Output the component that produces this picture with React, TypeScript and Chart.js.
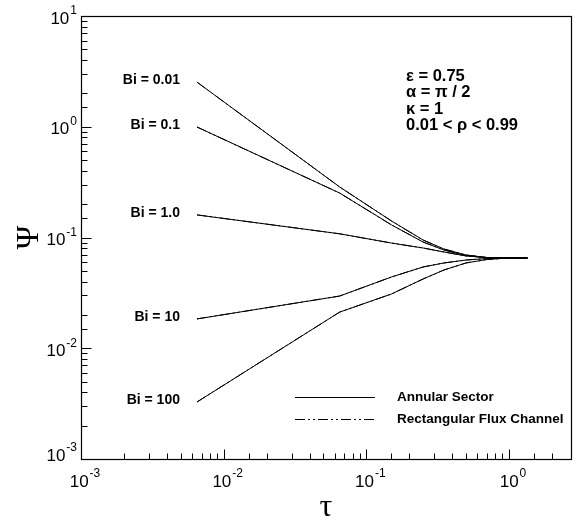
import React, { useEffect, useRef } from "react";
import { Chart, registerables } from "chart.js";

Chart.register(...registerables);

// ---- data ----
const tau = [0.0065, 0.065, 0.15, 0.25, 0.35, 0.5, 0.7, 1.0, 1.35];

const annularBi001 = [2.53, 0.286, 0.141, 0.0949, 0.0787, 0.0695, 0.0659, 0.0653, 0.0653];
const annularBi01 = [0.995, 0.252, 0.13, 0.091, 0.0771, 0.0688, 0.0659, 0.0653, 0.0653];
const annularBi1 = [0.16, 0.108, 0.0891, 0.0804, 0.074, 0.0681, 0.0659, 0.0653, 0.0653];
const annularBi10 = [0.0184, 0.0296, 0.044, 0.0542, 0.0589, 0.0626, 0.0646, 0.0653, 0.0653];
const annularBi100 = [0.00327, 0.0212, 0.0309, 0.0422, 0.0509, 0.0589, 0.0633, 0.0653, 0.0653];

const rectBi001 = [2.53, 0.286, 0.141, 0.0949, 0.0787, 0.0695, 0.0659, 0.0653, 0.0653];
const rectBi01 = [0.995, 0.252, 0.13, 0.091, 0.0771, 0.0688, 0.0659, 0.0653, 0.0653];
const rectBi1 = [0.16, 0.108, 0.0891, 0.0804, 0.074, 0.0681, 0.0659, 0.0653, 0.0653];
const rectBi10 = [0.0184, 0.0296, 0.044, 0.0542, 0.0589, 0.0626, 0.0646, 0.0653, 0.0653];
const rectBi100 = [0.00327, 0.0212, 0.0309, 0.0422, 0.0509, 0.0589, 0.0633, 0.0653, 0.0653];

const biLabels = ["Bi = 0.01", "Bi = 0.1", "Bi = 1.0", "Bi = 10", "Bi = 100"];
const paramLines = ["ε = 0.75", "α = π / 2", "κ = 1", "0.01 < ρ < 0.99"];
const seriesNames = ["Annular Sector", "Rectangular Flux Channel"];
const xTitle = "τ";
const yTitle = "Ψ";
const tickBase = "10";
const xMin = 1e-3;
const xMax = 2.72;
const yMin = 1e-3;
const yMax = 10;

const annular = [annularBi001, annularBi01, annularBi1, annularBi10, annularBi100];
const rect = [rectBi001, rectBi01, rectBi1, rectBi10, rectBi100];

const DASH = [10, 3, 2, 3, 2, 3];
const SANS = '"Liberation Sans", Arial, Helvetica, sans-serif';
const SERIF = '"Liberation Serif", "Times New Roman", serif';
const BASE_FONT = "17px " + SANS;
const EXP_FONT = "12px " + SANS;

function isDecade(v: number) {
  const e = Math.log10(v);
  return Math.abs(e - Math.round(e)) < 1e-9;
}

function drawPow(ctx: any, exp: string, x: number, y: number, align: "right" | "center") {
  ctx.font = BASE_FONT;
  const wb = ctx.measureText(tickBase).width;
  ctx.font = EXP_FONT;
  const we = ctx.measureText(exp).width;
  const total = wb + we + 1;
  const x0 = align === "right" ? x - total : x - total / 2;
  ctx.textAlign = "left";
  ctx.textBaseline = "middle";
  ctx.font = BASE_FONT;
  ctx.fillText(tickBase, x0, y + 3);
  ctx.font = EXP_FONT;
  ctx.fillText(exp, x0 + wb + 1, y - 5);
}

const overlay = {
  id: "overlay",
  afterDraw(chart: any) {
    const { ctx, chartArea: a, scales } = chart;
    const xs = scales.x;
    const ys = scales.y;
    ctx.save();
    ctx.strokeStyle = "#000";
    ctx.fillStyle = "#000";
    ctx.lineWidth = 1.2;
    const L = Math.round(a.left) + 0.5;
    const R = Math.round(a.right) + 0.5;
    const T = Math.round(a.top) + 0.5;
    const B = Math.round(a.bottom) + 0.5;
    ctx.strokeRect(L, T, R - L, B - T);
    ctx.lineWidth = 1;
    ctx.beginPath();
    xs.ticks.forEach((t: any) => {
      const px = Math.round(xs.getPixelForValue(t.value)) + 0.5;
      if (px <= L + 1 || px >= R - 1) return;
      const len = isDecade(t.value) ? 10 : 6;
      ctx.moveTo(px, B);
      ctx.lineTo(px, B - len);
    });
    ys.ticks.forEach((t: any) => {
      const py = Math.round(ys.getPixelForValue(t.value)) + 0.5;
      if (py <= T + 1 || py >= B - 1) return;
      const len = isDecade(t.value) ? 10 : 6;
      ctx.moveTo(L, py);
      ctx.lineTo(L + len, py);
    });
    ctx.stroke();

    // decade tick labels (base 10 with raised exponent)
    xs.ticks.forEach((t: any) => {
      if (!isDecade(t.value)) return;
      const e = String(Math.round(Math.log10(t.value)));
      drawPow(ctx, e, xs.getPixelForValue(t.value) + 4, a.bottom + 20, "center");
    });
    ys.ticks.forEach((t: any) => {
      if (!isDecade(t.value)) return;
      const e = String(Math.round(Math.log10(t.value)));
      const py = ys.getPixelForValue(t.value);
      drawPow(ctx, e, a.left - 4, py <= a.bottom - 1 ? py : py - 6, "right");
    });

    // Bi labels beside the start of each curve
    ctx.font = "bold 14px " + SANS;
    ctx.textAlign = "right";
    ctx.textBaseline = "middle";
    annular.forEach((s, i) => {
      const px = xs.getPixelForValue(tau[0]) - 17;
      const py = ys.getPixelForValue(s[0]) - 2;
      ctx.fillText(biLabels[i], px, py);
    });

    // parameter block
    ctx.font = "bold 16.5px " + SANS;
    ctx.textAlign = "left";
    paramLines.forEach((txt, i) => {
      ctx.fillText(txt, a.left + 325, a.top + 60 + i * 16.5);
    });

    // legend
    const ds = chart.data.datasets;
    const legendItems = [ds[0], ds[annular.length]];
    ctx.font = "bold 13.5px " + SANS;
    legendItems.forEach((d: any, i: number) => {
      const y = Math.round(a.top + 381 + i * 22) + 0.5;
      ctx.setLineDash(d.borderDash || []);
      ctx.beginPath();
      ctx.moveTo(a.left + 214, y);
      ctx.lineTo(a.left + 294, y);
      ctx.stroke();
      ctx.setLineDash([]);
      ctx.fillText(d.label, a.left + 316, y);
    });
    ctx.restore();
  },
};

export default function App() {
  const ref = useRef<HTMLCanvasElement | null>(null);
  useEffect(() => {
    if (!ref.current) return;
    const datasets: any[] = [];
    annular.forEach((s) => {
      datasets.push({
        label: seriesNames[0],
        data: tau.map((t, j) => ({ x: t, y: s[j] })),
        borderColor: "#000",
        borderWidth: 1,
        pointRadius: 0,
        tension: 0,
        fill: false,
      });
    });
    rect.forEach((s) => {
      datasets.push({
        label: seriesNames[1],
        data: tau.map((t, j) => ({ x: t, y: s[j] })),
        borderColor: "#000",
        borderWidth: 1,
        borderDash: DASH,
        pointRadius: 0,
        tension: 0,
        fill: false,
      });
    });
    const chart = new Chart(ref.current, {
      type: "line",
      data: { datasets },
      options: {
        animation: false,
        responsive: false,
        layout: { padding: { left: 0, right: 10, top: 16, bottom: 0 } },
        plugins: { legend: { display: false }, tooltip: { enabled: false } },
        scales: {
          x: {
            type: "logarithmic",
            min: xMin,
            max: xMax,
            grid: { display: false },
            border: { display: false },
            ticks: { display: false, autoSkip: false },
            title: {
              display: true,
              text: xTitle,
              color: "#000",
              font: { family: SERIF, size: 32 },
              padding: { top: 0, bottom: 0 },
            },
            afterFit: (s: any) => {
              s.height = 68;
            },
          },
          y: {
            type: "logarithmic",
            min: yMin,
            max: yMax,
            grid: { display: false },
            border: { display: false },
            ticks: { display: false, autoSkip: false },
            title: {
              display: true,
              text: yTitle,
              color: "#000",
              font: { family: SERIF, size: 32 },
              padding: { top: 10, bottom: 0 },
            },
            afterFit: (s: any) => {
              s.width = 81;
            },
          },
        },
      },
      plugins: [overlay],
    });
    return () => chart.destroy();
  }, []);
  return (
    <div style={{ position: "fixed", left: 0, top: 0, width: 581, height: 527, background: "#fff" }}>
      <canvas ref={ref} width={581} height={527} style={{ display: "block" }} />
    </div>
  );
}
